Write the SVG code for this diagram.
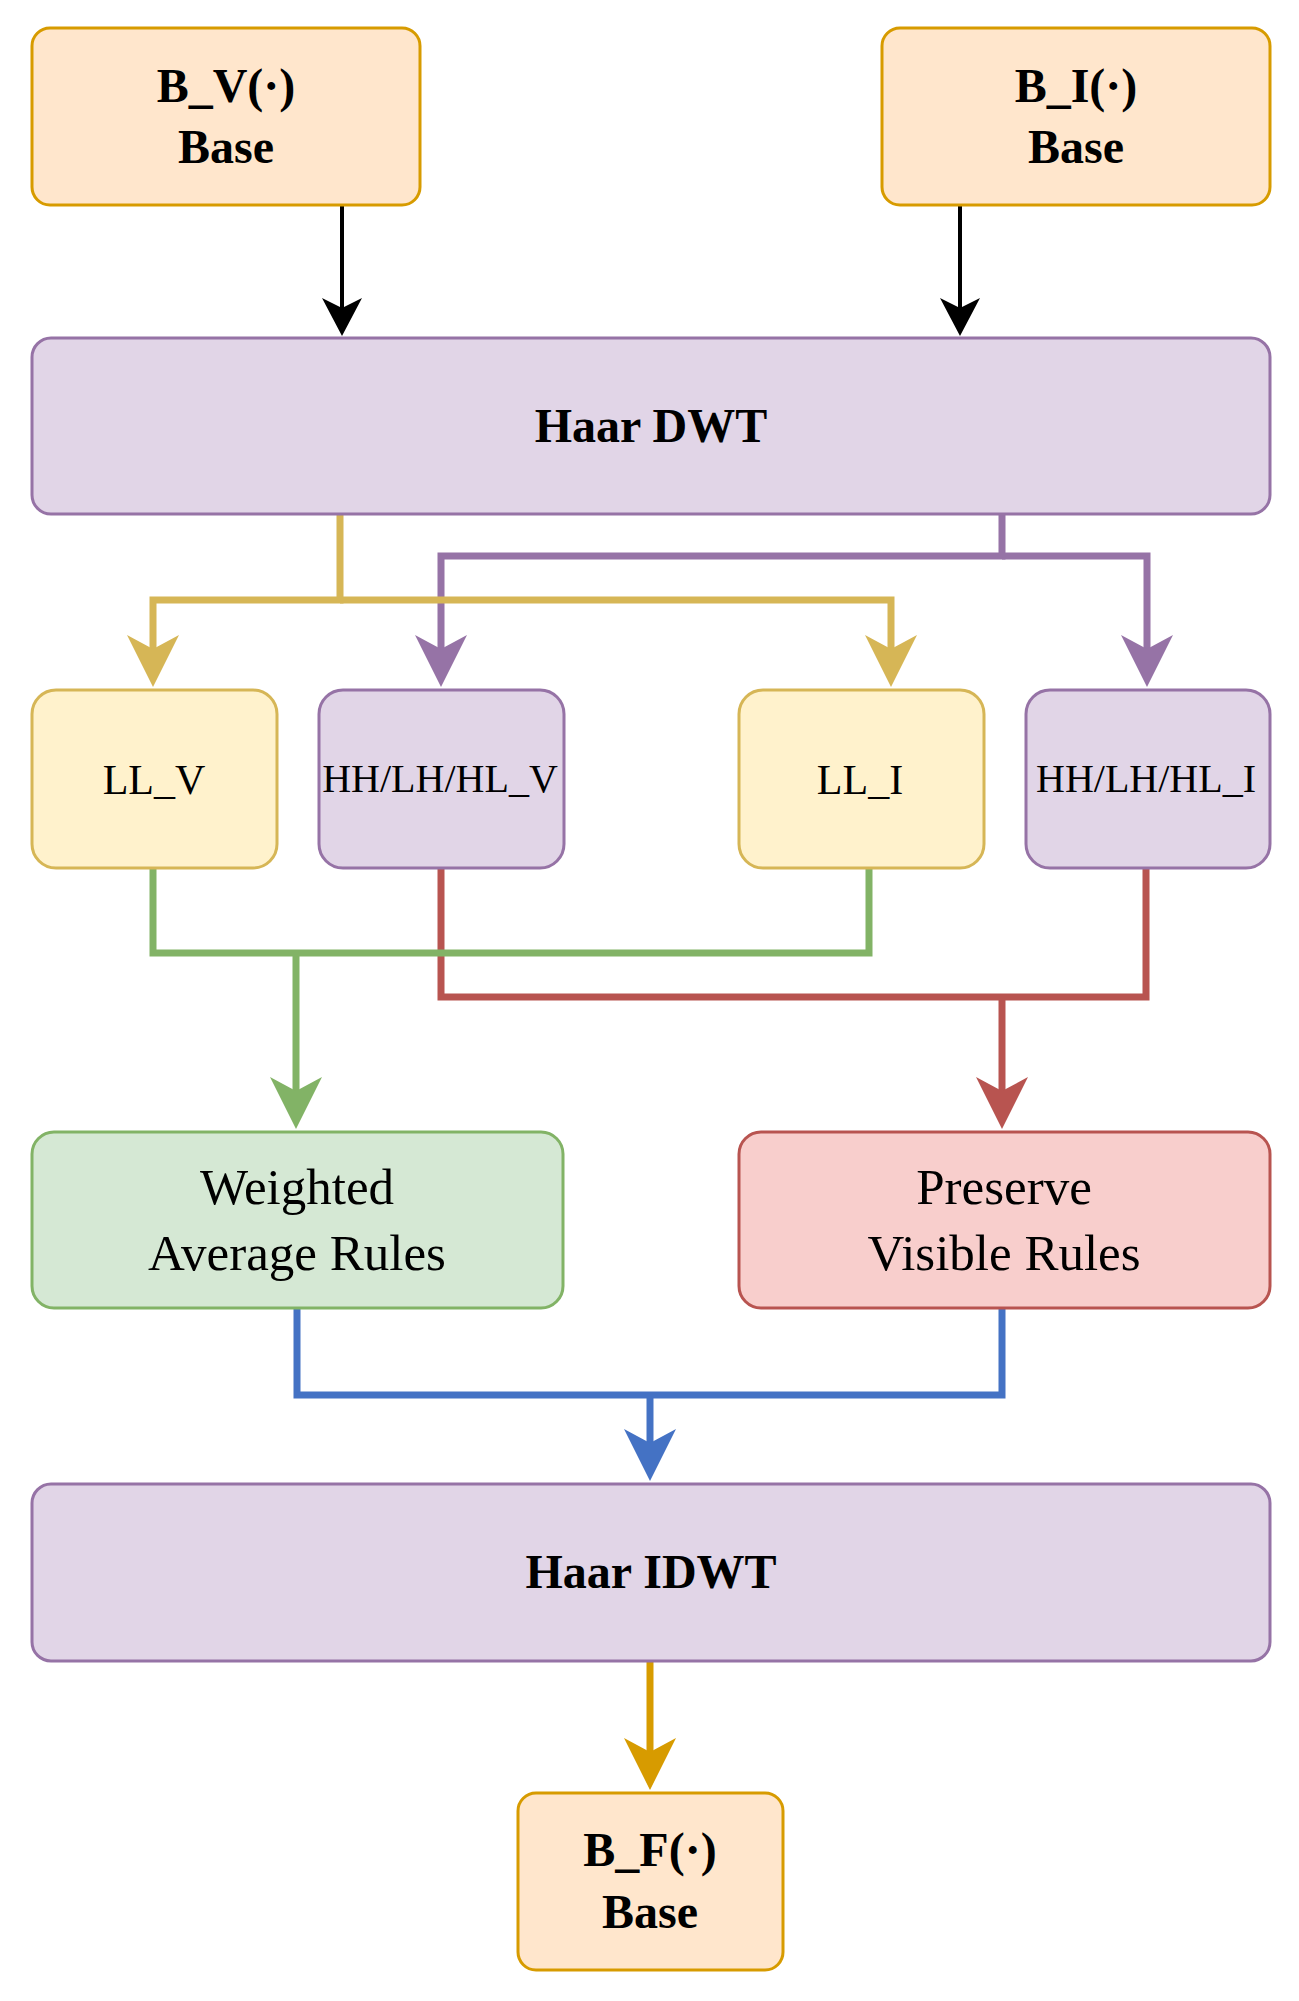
<svg xmlns="http://www.w3.org/2000/svg" width="1299" height="2001" viewBox="0 0 1299 2001">
<style>
.box{stroke-width:3}
.orange{fill:#ffe6cc;stroke:#d79b00}
.purple{fill:#e1d5e7;stroke:#9673a6}
.yellow{fill:#fff2cc;stroke:#d6b656}
.green{fill:#d5e8d4;stroke:#82b366}
.red{fill:#f8cecc;stroke:#b85450}
.t{font-family:"Liberation Serif","Times New Roman",serif;fill:#000;text-anchor:middle}
.b{font-weight:bold;font-size:48px}
.s{font-size:42px}
.h{font-size:40px}
.r{font-size:51px}
.c{fill:none;stroke-width:7;stroke-linejoin:miter}
.k{fill:none;stroke:#000;stroke-width:4}
</style>
<defs>
<marker id="ak" markerUnits="userSpaceOnUse" viewBox="0 0 38 40" markerWidth="38" markerHeight="40" refX="28" refY="20" orient="auto"><path d="M0,0 L38,20 L0,40 L10,20 Z" fill="#000"/></marker>
<marker id="ay" markerUnits="userSpaceOnUse" viewBox="0 0 52 52" markerWidth="52" markerHeight="52" refX="38" refY="26" orient="auto"><path d="M0,0 L52,26 L0,52 L14,26 Z" fill="#d6b656"/></marker>
<marker id="ap" markerUnits="userSpaceOnUse" viewBox="0 0 52 52" markerWidth="52" markerHeight="52" refX="38" refY="26" orient="auto"><path d="M0,0 L52,26 L0,52 L14,26 Z" fill="#9673a6"/></marker>
<marker id="ag" markerUnits="userSpaceOnUse" viewBox="0 0 52 52" markerWidth="52" markerHeight="52" refX="38" refY="26" orient="auto"><path d="M0,0 L52,26 L0,52 L14,26 Z" fill="#82b366"/></marker>
<marker id="ar" markerUnits="userSpaceOnUse" viewBox="0 0 52 52" markerWidth="52" markerHeight="52" refX="38" refY="26" orient="auto"><path d="M0,0 L52,26 L0,52 L14,26 Z" fill="#b85450"/></marker>
<marker id="ab" markerUnits="userSpaceOnUse" viewBox="0 0 52 52" markerWidth="52" markerHeight="52" refX="38" refY="26" orient="auto"><path d="M0,0 L52,26 L0,52 L14,26 Z" fill="#4472c4"/></marker>
<marker id="ao" markerUnits="userSpaceOnUse" viewBox="0 0 52 52" markerWidth="52" markerHeight="52" refX="38" refY="26" orient="auto"><path d="M0,0 L52,26 L0,52 L14,26 Z" fill="#d79b00"/></marker>
</defs>
<rect width="1299" height="2001" fill="#fff"/>
<g id="connectors">
<path class="k" d="M342,205 V326" marker-end="url(#ak)"/>
<path class="k" d="M960,205 V326" marker-end="url(#ak)"/>
<path class="c" stroke="#9673a6" d="M1002,514 V556 H441 V673" marker-end="url(#ap)"/>
<path class="c" stroke="#9673a6" d="M1002,556 H1147 V673" marker-end="url(#ap)"/>
<path class="c" stroke="#d6b656" d="M340,514 V600 H153 V673" marker-end="url(#ay)"/>
<path class="c" stroke="#d6b656" d="M340,600 H891 V673" marker-end="url(#ay)"/>
<path class="c" stroke="#b85450" d="M441,868 V997 H1146 V868"/>
<path class="c" stroke="#b85450" d="M1002,997 V1115" marker-end="url(#ar)"/>
<path class="c" stroke="#82b366" d="M153,868 V953 H869 V868"/>
<path class="c" stroke="#82b366" d="M296,953 V1115" marker-end="url(#ag)"/>
<path class="c" stroke="#4472c4" d="M297,1308 V1395 H1002 V1308"/>
<path class="c" stroke="#4472c4" d="M650,1395 V1467" marker-end="url(#ab)"/>
<path class="c" stroke="#d79b00" d="M650,1661 V1776" marker-end="url(#ao)"/>
</g>
<g id="bv"><rect class="box orange" x="32" y="28" width="388" height="177" rx="18"/><text class="t b" x="226" y="102">B_V(·)</text><text class="t b" x="226" y="163">Base</text></g>
<g id="bi"><rect class="box orange" x="882" y="28" width="388" height="177" rx="18"/><text class="t b" x="1076" y="102">B_I(·)</text><text class="t b" x="1076" y="163">Base</text></g>
<g id="dwt"><rect class="box purple" x="32" y="338" width="1238" height="176" rx="19"/><text class="t b" x="651" y="442">Haar DWT</text></g>
<g id="llv"><rect class="box yellow" x="32" y="690" width="245" height="178" rx="24"/><text class="t s" x="154" y="794">LL_V</text></g>
<g id="hhv"><rect class="box purple" x="319" y="690" width="245" height="178" rx="24"/><text class="t h" x="440" y="792">HH/LH/HL_V</text></g>
<g id="lli"><rect class="box yellow" x="739" y="690" width="245" height="178" rx="24"/><text class="t s" x="860" y="794">LL_I</text></g>
<g id="hhi"><rect class="box purple" x="1026" y="690" width="244" height="178" rx="24"/><text class="t h" x="1146" y="792">HH/LH/HL_I</text></g>
<g id="war"><rect class="box green" x="32" y="1132" width="531" height="176" rx="22"/><text class="t r" x="297" y="1204">Weighted</text><text class="t r" x="297" y="1270">Average Rules</text></g>
<g id="pvr"><rect class="box red" x="739" y="1132" width="531" height="176" rx="22"/><text class="t r" x="1004" y="1204">Preserve</text><text class="t r" x="1004" y="1270">Visible Rules</text></g>
<g id="idwt"><rect class="box purple" x="32" y="1484" width="1238" height="177" rx="19"/><text class="t b" x="651" y="1588">Haar IDWT</text></g>
<g id="bf"><rect class="box orange" x="518" y="1793" width="265" height="177" rx="18"/><text class="t b" x="650" y="1866">B_F(·)</text><text class="t b" x="650" y="1928">Base</text></g>
</svg>
